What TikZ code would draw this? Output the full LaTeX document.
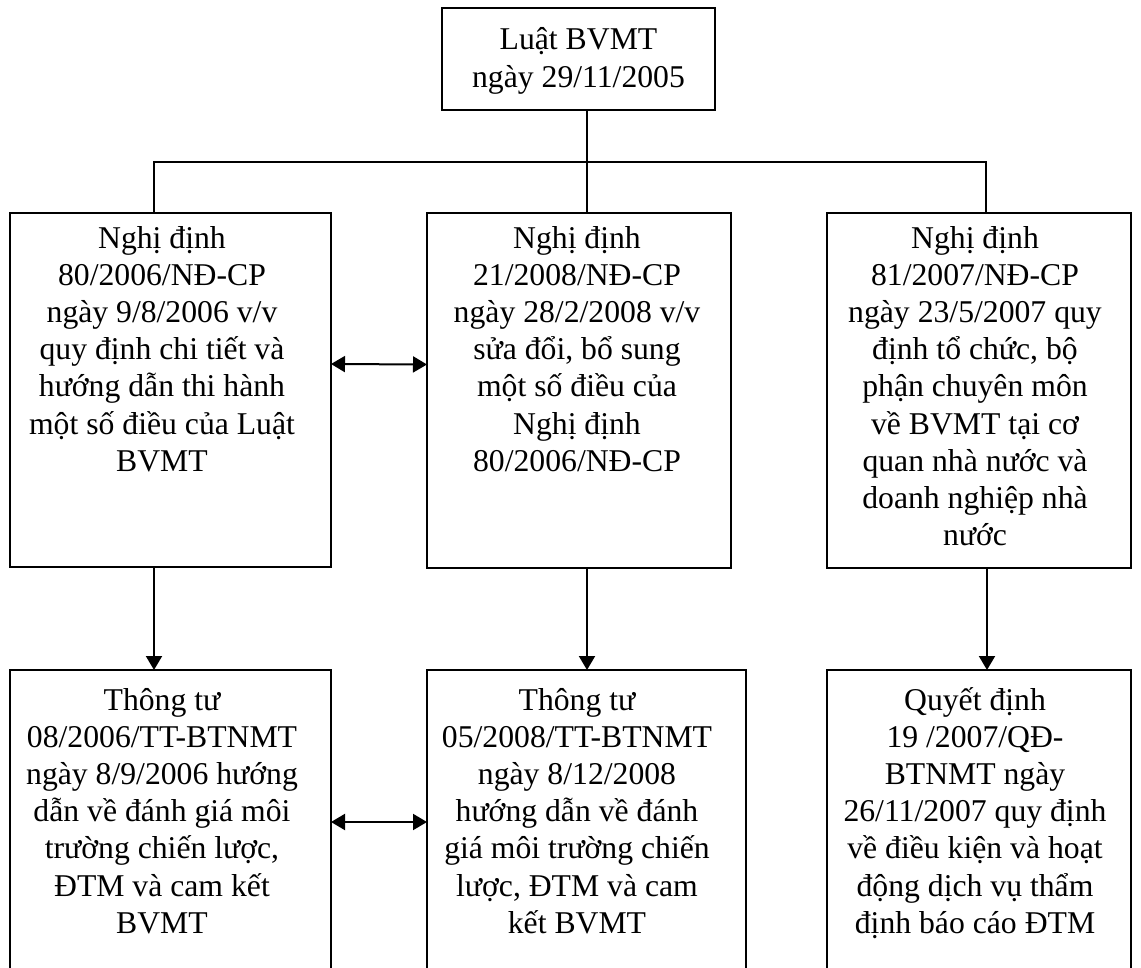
\documentclass[tikz,border=0pt]{standalone}
\usepackage{fontspec}
\setmainfont{Liberation Serif}
\usetikzlibrary{arrows.meta,calc}
\begin{document}
\begin{tikzpicture}[x=1pt,y=1pt,
  box/.style={draw, line width=2pt, rectangle, inner sep=0pt, outer sep=0pt, anchor=north west},
  txt/.style={align=center, inner sep=0pt, anchor=base, font=\fontsize{31.7pt}{37.2pt}\selectfont},
  conn/.style={line width=2pt},
  arr/.style={line width=2pt, -{Triangle[length=14pt,width=16pt]}},
  dbl/.style={line width=2pt, {Triangle[length=14pt,width=16pt]}-{Triangle[length=14pt,width=16pt]}}]
\clip (0,0) rectangle (1141,-968);
\fill[white] (0,0) rectangle (1141,-968);
% boxes
\node[box, minimum width=273pt, minimum height=102pt] (top) at (442,-8) {};
\node[box, minimum width=321pt, minimum height=354pt] (L2) at (10,-213) {};
\node[box, minimum width=304pt, minimum height=355pt] (M2) at (427,-213) {};
\node[box, minimum width=304pt, minimum height=355pt] (R2) at (827,-213) {};
\node[box, minimum width=321pt, minimum height=320pt] (L3) at (10,-670) {};
\node[box, minimum width=319pt, minimum height=320pt] (M3) at (427,-670) {};
\node[box, minimum width=304pt, minimum height=320pt] (R3) at (827,-670) {};
% texts (anchored at the baseline of their last line)
\node[txt] (tTop) at (578.5,-87.2) {Luật BVMT\\ngày 29/11/2005};
\node[txt] (tL2) at (162,-471.2) {Nghị định\\80/2006/NĐ-CP\\ngày 9/8/2006 v/v\\quy định chi tiết và\\hướng dẫn thi hành\\một số điều của Luật\\BVMT};
\node[txt] (tM2) at (577,-471.2) {Nghị định\\21/2008/NĐ-CP\\ngày 28/2/2008 v/v\\sửa đổi, bổ sung\\một số điều của\\Nghị định\\80/2006/NĐ-CP};
\node[txt] (tR2) at (975,-545.6) {Nghị định\\81/2007/NĐ-CP\\ngày 23/5/2007 quy\\định tổ chức, bộ\\phận chuyên môn\\về BVMT tại cơ\\quan nhà nước và\\doanh nghiệp nhà\\nước};
\node[txt] (tL3) at (162,-933.2) {Thông tư\\08/2006/TT-BTNMT\\ngày 8/9/2006 hướng\\dẫn về đánh giá môi\\trường chiến lược,\\ĐTM và cam kết\\BVMT};
\node[txt] (tM3) at (577,-933.2) {Thông tư\\05/2008/TT-BTNMT\\ngày 8/12/2008\\hướng dẫn về đánh\\giá môi trường chiến\\lược, ĐTM và cam\\kết BVMT};
\node[txt] (tR3) at (975,-933.2) {Quyết định\\19 /2007/QĐ-\\BTNMT ngày\\26/11/2007 quy định\\về điều kiện và hoạt\\động dịch vụ thẩm\\định báo cáo ĐTM};
% connectors
\coordinate (hj) at (587,-162);
\draw[conn] ([xshift=8.5pt]top.south) -- ([xshift=8pt]M2.north);
\draw[conn] ([xshift=-16.5pt]L2.north) |- (hj) -| ([xshift=7pt]R2.north);
\draw[arr] ([xshift=-16.5pt]L2.south) -- ([xshift=-16.5pt]L3.north);
\draw[arr] ([xshift=8pt]M2.south) -- ([xshift=0.5pt]M3.north);
\draw[arr] ([xshift=8pt]R2.south) -- ([xshift=8pt]R3.north);
\draw[dbl] ([yshift=26pt]L2.east) -- ([yshift=26pt]M2.west);
\draw[dbl] ([yshift=8pt]L3.east) -- ([yshift=8pt]L3.east -| M3.west);
\end{tikzpicture}
\end{document}
